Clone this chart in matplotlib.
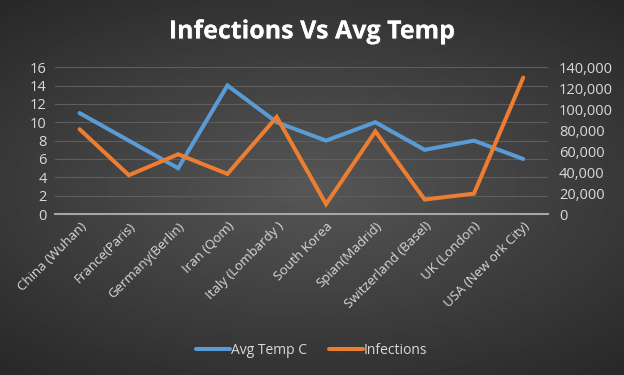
import numpy as np
from matplotlib import pyplot as plt
from matplotlib import patheffects
from matplotlib.ticker import FuncFormatter

cities = ["China (Wuhan)", "France(Paris)", "Germany(Berlin)", "Iran (Qom)",
          "Italy (Lombardy )", "South Korea", "Spian(Madrid)",
          "Switzerland (Basel)", "UK (London)", "USA (New ork City)"]
avg_temp = [11, 8, 5, 14, 10, 8, 10, 7, 8, 6]
infections = [80900, 37100, 57000, 38300, 92500, 9500, 78800, 13900, 19500, 130000]

blue = "#5B9BD5"
orange = "#ED7D31"
text_col = "#D9D9D9"

fig = plt.figure(figsize=(6.24, 3.75), dpi=100)

# dark radial gradient background
bg = fig.add_axes([0, 0, 1, 1])
yy, xx = np.mgrid[-1:1:200j, -1:1:320j]
r = np.sqrt((xx * 0.85) ** 2 + (yy * 1.0) ** 2)
bg.imshow(0.34 - 0.14 * np.clip(r, 0, 1.3), cmap="gray", vmin=0, vmax=1,
          aspect="auto", extent=[0, 1, 0, 1], interpolation="bilinear")
bg.set_axis_off()

ax = fig.add_axes([0.088, 0.429, 0.79, 0.392])
ax.patch.set_alpha(0)
x = np.arange(len(cities))
l1, = ax.plot(x, avg_temp, color=blue, lw=2.9, solid_capstyle="round",
              solid_joinstyle="miter", label="Avg Temp C", zorder=3)
ax.set_ylim(0, 16)
ax.set_yticks(range(0, 17, 2))
ax.set_xlim(-0.5, len(cities) - 0.5)
ax.set_xticks(x)
ax.set_xticklabels(cities, rotation=45, ha="right", rotation_mode="anchor",
                   color=text_col, fontsize=9.5, family="Open Sans")
ax.grid(axis="y", color="#5E5E5E", lw=0.8)
ax.set_axisbelow(True)
for s in ["top", "right", "left"]:
    ax.spines[s].set_visible(False)
ax.spines["bottom"].set_color("#A6A6A6")
ax.spines["bottom"].set_linewidth(1.5)
ax.tick_params(axis="both", length=0, colors=text_col, pad=6)
ax.tick_params(axis="y", labelsize=10.5)
ax.tick_params(axis="x", pad=4)
for t in ax.get_yticklabels():
    t.set_family("Open Sans")

ax2 = ax.twinx()
ax2.patch.set_alpha(0)
l2, = ax2.plot(x, infections, color=orange, lw=2.9, solid_capstyle="round",
               solid_joinstyle="miter", label="Infections", zorder=3)
ax2.set_ylim(0, 140000)
ax2.set_yticks(range(0, 140001, 20000))
ax2.yaxis.set_major_formatter(FuncFormatter(lambda v, p: f"{int(v):,}"))
for s in ax2.spines.values():
    s.set_visible(False)
ax2.tick_params(axis="y", length=0, colors=text_col, labelsize=10.5, pad=8)
for t in ax2.get_yticklabels():
    t.set_family("Open Sans")

fig.text(0.5, 0.915, "Infections Vs Avg Temp", ha="center", va="center",
         color="white", fontsize=18, fontweight="bold", family="Open Sans",
         path_effects=[patheffects.withSimplePatchShadow(offset=(1, -1),
                                                         alpha=0.5),
                       patheffects.Normal()])

leg = fig.legend(handles=[l1, l2], loc="center", bbox_to_anchor=(0.5, 0.065),
                 ncol=2, frameon=False, handlelength=2.4,
                 handletextpad=0.1, columnspacing=1.6,
                 prop={"family": "Open Sans", "size": 10})
for t in leg.get_texts():
    t.set_color(text_col)

fig.savefig("out.png", dpi=100)
